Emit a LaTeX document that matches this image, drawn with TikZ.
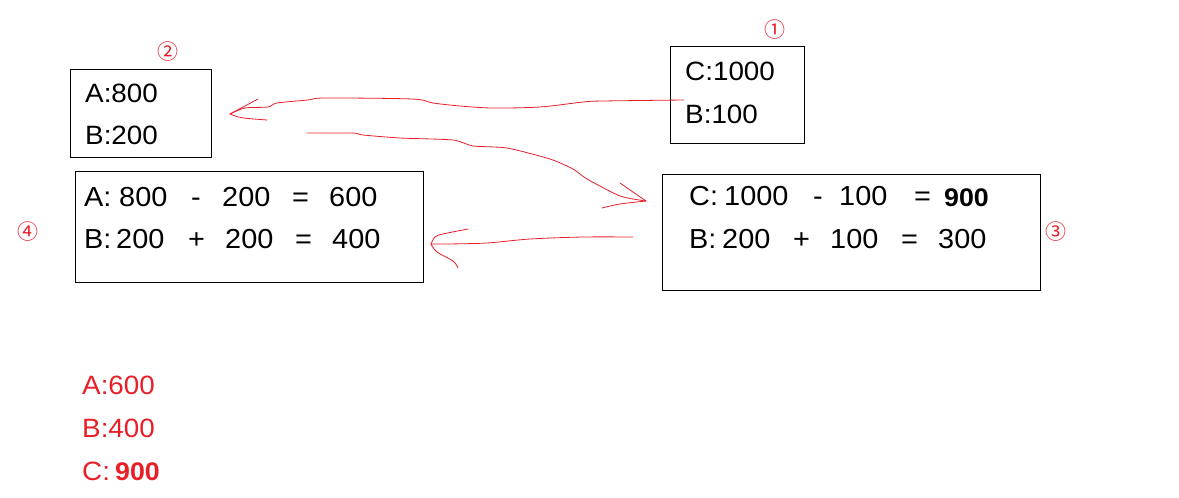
\documentclass[tikz,border=0pt]{standalone}
\usepackage{fontspec}
\setmainfont{Liberation Sans}[FakeStretch=1.05]
\newfontfamily\circfont{Noto Sans CJK SC}
\definecolor{inkred}{RGB}{232,30,40}
\begin{document}
\begin{tikzpicture}[x=1pt,y=-1pt,
  box/.style={draw=black,line width=1.2pt,inner sep=0pt,anchor=north west},
  tk/.style={anchor=base west,inner sep=0pt,font=\fontsize{26.5}{30}\selectfont},
  tkb/.style={anchor=base west,inner sep=0pt,font=\fontsize{27.5}{30}\selectfont},
  num/.style={inner sep=0pt,text=inkred,font=\circfont\fontsize{21}{22}\selectfont},
  res/.style={anchor=base west,inner sep=0pt,text=inkred,font=\fontsize{26.5}{30}\selectfont},
  stroke/.style={draw=inkred,line width=0.8pt,line cap=round,line join=round}]
\useasboundingbox (0,0) rectangle (1179,498);
% boxes
\node[box,minimum width=134pt,minimum height=97pt] (box1) at (670,46) {};
\node[box,minimum width=141pt,minimum height=88pt] (box2) at (70,69) {};
\node[box,minimum width=348pt,minimum height=111pt] (box4) at (75,171) {};
\node[box,minimum width=378pt,minimum height=116pt] (box3) at (662,174) {};
% circled numbers
\node[num] (n1) at (775,30) {①};
\node[num] (n2) at (168,52) {②};
\node[num] (n4) at (28,232) {④};
\node[num] (n3) at (1056,232) {③};
% box 1
\node[tk] (t1a) at (685,80) {C:1000};
\node[tk] (t1b) at (685,123) {B:100};
% box 2
\node[tk] (t2a) at (85,102) {A:800};
\node[tk] (t2b) at (85,144) {B:200};
% box 4
\node[tkb] (t4a1) at (84,206) {A:};
\node[tkb] (t4a2) at (119,206) {800};
\node[tkb] (t4a3) at (191,206) {-};
\node[tkb] (t4a4) at (222,206) {200};
\node[tkb] (t4a5) at (292,206) {=};
\node[tkb] (t4a6) at (329,206) {600};
\node[tkb] (t4b1) at (84,248) {B:};
\node[tkb] (t4b2) at (116,248) {200};
\node[tkb] (t4b3) at (188,248) {+};
\node[tkb] (t4b4) at (225,248) {200};
\node[tkb] (t4b5) at (295,248) {=};
\node[tkb] (t4b6) at (332,248) {400};
% box 3
\node[tkb] (t3a1) at (689,205) {C:};
\node[tkb] (t3a2) at (724,205) {1000};
\node[tkb] (t3a3) at (813,205) {-};
\node[tkb] (t3a4) at (839,205) {100};
\node[tkb] (t3a5) at (914,205) {=};
\node[tkb,font=\bfseries\fontsize{25.5}{30}\selectfont] (t3a6) at (944,206) {900};
\node[tkb] (t3b1) at (689,248) {B:};
\node[tkb] (t3b2) at (722,248) {200};
\node[tkb] (t3b3) at (793,248) {+};
\node[tkb] (t3b4) at (830,248) {100};
\node[tkb] (t3b5) at (901,248) {=};
\node[tkb] (t3b6) at (938,248) {300};
% results
\node[res] (r1) at (82,394) {A:600};
\node[res] (r2) at (82,437) {B:400};
\node[res] (r3) at (82,480) {C:};
\node[res,font=\bfseries\fontsize{25.5}{30}\selectfont] (r4) at (115,480) {900};
% hand-drawn arrows
\coordinate (a1s) at (684,100);
\coordinate (a1t) at (230,114);
\draw[stroke] plot[smooth,tension=0.5] coordinates {(a1s) (603,101) (583,102) (540,107) (492,108) (460,106) (433,103) (412,99) (325,98) (308,100) (277,103) (268,107) (245,108) (a1t)};
\draw[stroke] (a1t) -- (258,99);
\draw[stroke] (a1t) .. controls (240,118) .. (267,120);
\coordinate (a2s) at (307,133);
\coordinate (a2t) at (646,201);
\draw[stroke] plot[smooth,tension=0.4] coordinates {(a2s) (353,133) (363,135) (400,138) (453,140) (473,146) (507,148) (550,159) (573,169) (587,179) (620,196) (a2t)};
\draw[stroke] (a2t) -- (620,183);
\draw[stroke] plot[smooth,tension=0.5] coordinates {(a2t) (620,204) (602,208)};
\coordinate (a3s) at (633,237);
\coordinate (a3t) at (431,244);
\draw[stroke] plot[smooth,tension=0.5] coordinates {(a3s) (583,237) (530,239) (487,243) (447,244) (a3t)};
\draw[stroke] plot[smooth,tension=0.6] coordinates {(a3t) (435,237) (443,234) (468,229)};
\draw[stroke] plot[smooth,tension=0.6] coordinates {(a3t) (437,252) (453,261) (458,268)};
\end{tikzpicture}
\end{document}
